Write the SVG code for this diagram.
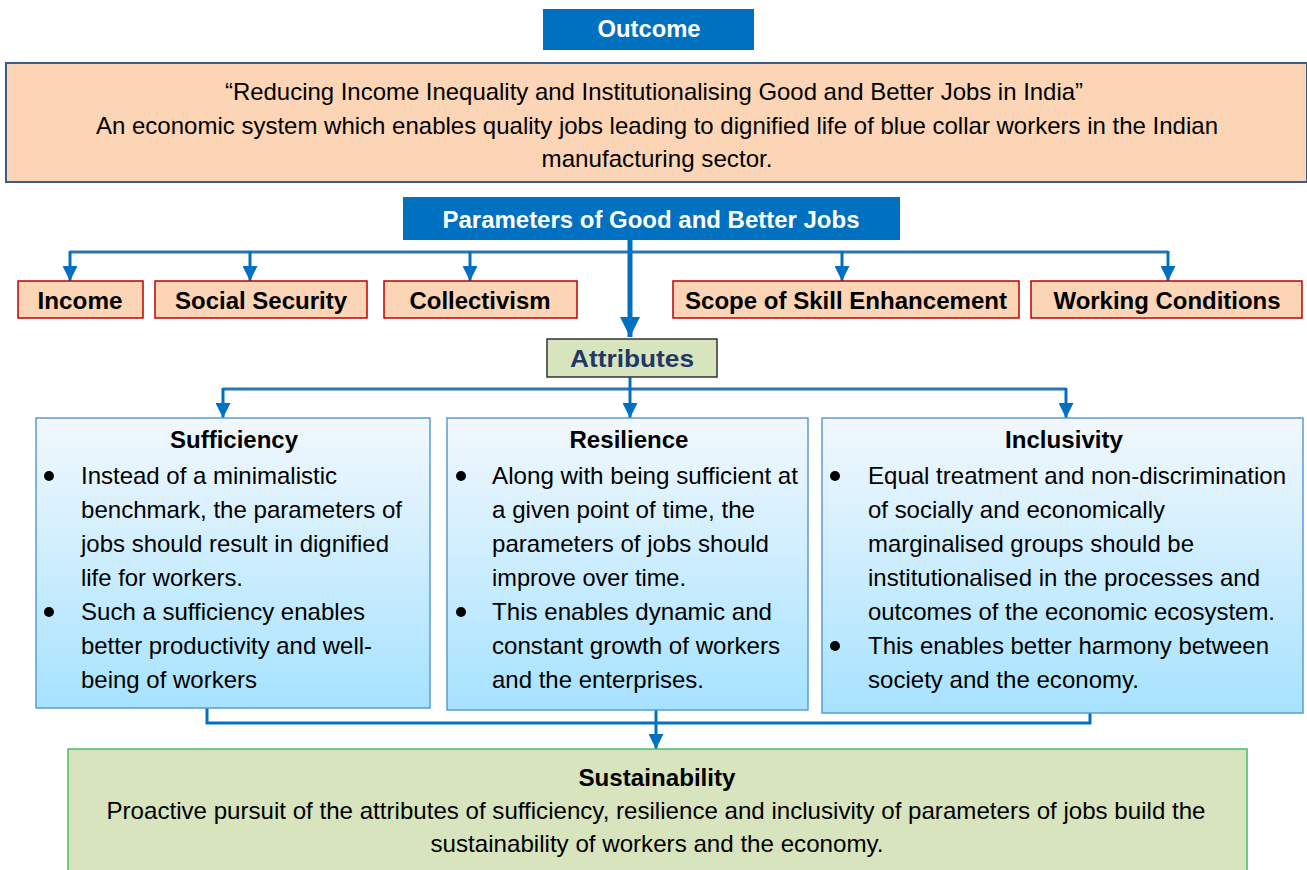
<svg xmlns="http://www.w3.org/2000/svg" width="1307" height="870" viewBox="0 0 1307 870">
<style>
text{font-family:"Liberation Sans",Arial,sans-serif;fill:#000}
.wt{fill:#fff;font-weight:bold;font-size:24px}
.pb{fill:#FBD5B5;stroke:#C00000;stroke-width:1.5}
.pt{font-weight:bold;font-size:24px}
.bb{fill:url(#bg);stroke:#5B9BD5;stroke-width:1.5}
.tt{font-weight:bold;font-size:24px}
.bd{font-size:24px}
.c{fill:none;stroke:#0070C0;stroke-width:3}
.cl{fill:none;stroke:#2E75B6;stroke-width:3}
.thick{stroke-width:5}
</style>
<defs>
<linearGradient id="bg" x1="0" y1="0" x2="0" y2="1">
<stop offset="0" stop-color="#F2F8FD"/>
<stop offset="1" stop-color="#A6E2FF"/>
</linearGradient>
<marker id="ah2" viewBox="0 0 10 10" refX="10" refY="5" markerWidth="5" markerHeight="5" orient="auto" markerUnits="strokeWidth">
<path d="M0,0 L10,5 L0,10 Z" fill="#0070C0"/>
</marker>
<marker id="ah3" viewBox="0 0 10 10" refX="10" refY="5" markerWidth="4" markerHeight="4" orient="auto" markerUnits="strokeWidth">
<path d="M0,0 L10,5 L0,10 Z" fill="#0070C0"/>
</marker>
</defs>

<g id="connectors">
<path class="cl" d="M70,252 H1168"/>
<path class="c" d="M70,251 V281" marker-end="url(#ah2)"/>
<path class="c" d="M250,251 V281" marker-end="url(#ah2)"/>
<path class="c" d="M470,251 V281" marker-end="url(#ah2)"/>
<path class="c" d="M842,251 V281" marker-end="url(#ah2)"/>
<path class="c" d="M1168,251 V281" marker-end="url(#ah2)"/>
<path class="c thick" d="M630,240 V337" marker-end="url(#ah3)"/>
<path class="c" d="M630,377 V389"/>
<path class="cl" d="M223,389 H1066"/>
<path class="c" d="M223,388 V418" marker-end="url(#ah2)"/>
<path class="c" d="M630,388 V418" marker-end="url(#ah2)"/>
<path class="c" d="M1066,388 V418" marker-end="url(#ah2)"/>
<path class="c" d="M207,708 V723 H1090 V713"/>
<path class="c" d="M656,710 V749" marker-end="url(#ah2)"/>
</g>

<g id="outcome">
<rect x="543" y="9" width="211" height="41" fill="#0070C0"/>
<text class="wt" x="649" y="37" text-anchor="middle" textLength="103" lengthAdjust="spacingAndGlyphs">Outcome</text>
</g>

<g id="outcome-statement">
<rect x="6" y="63" width="1301" height="119" fill="#FBD5B5" stroke="#385D8A" stroke-width="2"/>
<text class="bd" x="654" y="100" text-anchor="middle" textLength="858" lengthAdjust="spacingAndGlyphs">“Reducing Income Inequality and Institutionalising Good and Better Jobs in India”</text>
<text class="bd" x="657" y="134" text-anchor="middle" textLength="1122" lengthAdjust="spacingAndGlyphs">An economic system which enables quality jobs leading to dignified life of blue collar workers in the Indian</text>
<text class="bd" x="657" y="167" text-anchor="middle" textLength="231" lengthAdjust="spacingAndGlyphs">manufacturing sector.</text>
</g>

<g id="parameters">
<rect x="403" y="197" width="497" height="43" fill="#0070C0"/>
<text class="wt" x="651" y="228" text-anchor="middle" textLength="417" lengthAdjust="spacingAndGlyphs">Parameters of Good and Better Jobs</text>
</g>

<g id="income">
<rect class="pb" x="18" y="281" width="125" height="37"/>
<text class="pt" x="80" y="309" text-anchor="middle" textLength="85" lengthAdjust="spacingAndGlyphs">Income</text>
</g>
<g id="social-security">
<rect class="pb" x="155" y="281" width="212" height="37"/>
<text class="pt" x="261" y="309" text-anchor="middle" textLength="172" lengthAdjust="spacingAndGlyphs">Social Security</text>
</g>
<g id="collectivism">
<rect class="pb" x="384" y="281" width="193" height="37"/>
<text class="pt" x="480" y="309" text-anchor="middle" textLength="141" lengthAdjust="spacingAndGlyphs">Collectivism</text>
</g>
<g id="skill">
<rect class="pb" x="673" y="281" width="346" height="37"/>
<text class="pt" x="846" y="309" text-anchor="middle" textLength="322" lengthAdjust="spacingAndGlyphs">Scope of Skill Enhancement</text>
</g>
<g id="working-conditions">
<rect class="pb" x="1031" y="281" width="271" height="37"/>
<text class="pt" x="1167" y="309" text-anchor="middle" textLength="227" lengthAdjust="spacingAndGlyphs">Working Conditions</text>
</g>

<g id="attributes">
<rect x="547" y="339" width="170" height="38" fill="#D7E4BD" stroke="#333" stroke-width="1.5"/>
<text x="632" y="367" text-anchor="middle" font-weight="bold" font-size="24" style="fill:#1F3864" textLength="124" lengthAdjust="spacingAndGlyphs">Attributes</text>
</g>

<g id="sufficiency">
<rect class="bb" x="36" y="418" width="394" height="290"/>
<text class="tt" x="234" y="448" text-anchor="middle" textLength="128" lengthAdjust="spacingAndGlyphs">Sufficiency</text>
<circle cx="49" cy="476" r="5"/>
<circle cx="49" cy="612" r="5"/>
<text class="bd" x="81" y="484" textLength="256" lengthAdjust="spacingAndGlyphs">Instead of a minimalistic</text>
<text class="bd" x="81" y="518" textLength="321" lengthAdjust="spacingAndGlyphs">benchmark, the parameters of</text>
<text class="bd" x="81" y="552" textLength="308" lengthAdjust="spacingAndGlyphs">jobs should result in dignified</text>
<text class="bd" x="81" y="586" textLength="162" lengthAdjust="spacingAndGlyphs">life for workers.</text>
<text class="bd" x="81" y="620" textLength="284" lengthAdjust="spacingAndGlyphs">Such a sufficiency enables</text>
<text class="bd" x="81" y="654" textLength="291" lengthAdjust="spacingAndGlyphs">better productivity and well-</text>
<text class="bd" x="81" y="688" textLength="176" lengthAdjust="spacingAndGlyphs">being of workers</text>
</g>

<g id="resilience">
<rect class="bb" x="447" y="418" width="361" height="292"/>
<text class="tt" x="629" y="448" text-anchor="middle" textLength="119" lengthAdjust="spacingAndGlyphs">Resilience</text>
<circle cx="461" cy="476" r="5"/>
<circle cx="461" cy="612" r="5"/>
<text class="bd" x="492" y="484" textLength="306" lengthAdjust="spacingAndGlyphs">Along with being sufficient at</text>
<text class="bd" x="492" y="518" textLength="263" lengthAdjust="spacingAndGlyphs">a given point of time, the</text>
<text class="bd" x="492" y="552" textLength="277" lengthAdjust="spacingAndGlyphs">parameters of jobs should</text>
<text class="bd" x="492" y="586" textLength="194" lengthAdjust="spacingAndGlyphs">improve over time.</text>
<text class="bd" x="492" y="620" textLength="280" lengthAdjust="spacingAndGlyphs">This enables dynamic and</text>
<text class="bd" x="492" y="654" textLength="288" lengthAdjust="spacingAndGlyphs">constant growth of workers</text>
<text class="bd" x="492" y="688" textLength="212" lengthAdjust="spacingAndGlyphs">and the enterprises.</text>
</g>

<g id="inclusivity">
<rect class="bb" x="822" y="418" width="481" height="295"/>
<text class="tt" x="1064" y="448" text-anchor="middle" textLength="118" lengthAdjust="spacingAndGlyphs">Inclusivity</text>
<circle cx="835" cy="476" r="5"/>
<circle cx="835" cy="646" r="5"/>
<text class="bd" x="868" y="484" textLength="418" lengthAdjust="spacingAndGlyphs">Equal treatment and non-discrimination</text>
<text class="bd" x="868" y="518" textLength="297" lengthAdjust="spacingAndGlyphs">of socially and economically</text>
<text class="bd" x="868" y="552" textLength="326" lengthAdjust="spacingAndGlyphs">marginalised groups should be</text>
<text class="bd" x="868" y="586" textLength="392" lengthAdjust="spacingAndGlyphs">institutionalised in the processes and</text>
<text class="bd" x="868" y="620" textLength="407" lengthAdjust="spacingAndGlyphs">outcomes of the economic ecosystem.</text>
<text class="bd" x="868" y="654" textLength="401" lengthAdjust="spacingAndGlyphs">This enables better harmony between</text>
<text class="bd" x="868" y="688" textLength="271" lengthAdjust="spacingAndGlyphs">society and the economy.</text>
</g>

<g id="sustainability">
<rect x="68" y="749" width="1179" height="130" fill="#D7E4BD" stroke="#4CBB6C" stroke-width="1.5"/>
<text class="tt" x="657" y="786" text-anchor="middle" textLength="157" lengthAdjust="spacingAndGlyphs">Sustainability</text>
<text class="bd" x="656" y="819" text-anchor="middle" textLength="1099" lengthAdjust="spacingAndGlyphs">Proactive pursuit of the attributes of sufficiency, resilience and inclusivity of parameters of jobs build the</text>
<text class="bd" x="657" y="852" text-anchor="middle" textLength="453" lengthAdjust="spacingAndGlyphs">sustainability of workers and the economy.</text>
</g>
</svg>
